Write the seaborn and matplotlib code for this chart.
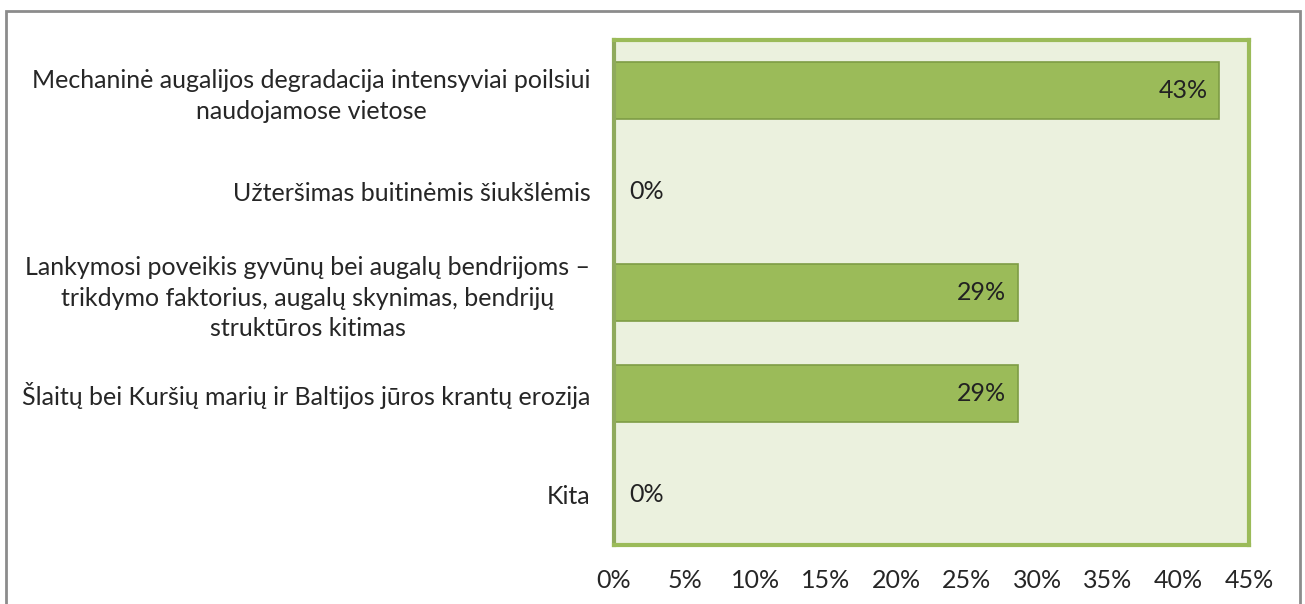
import matplotlib
matplotlib.use('Agg')
import matplotlib.pyplot as plt
import seaborn as sns
import numpy as np
import pandas as pd
from matplotlib.patches import Rectangle
from matplotlib.ticker import FuncFormatter

# Data
categories = [
    'Mechaninė augalijos degradacija intensyviai poilsiui\nnaudojamose vietose',
    'Užteršimas buitinėmis šiukšlėmis',
    'Lankymosi poveikis gyvūnų bei augalų bendrijoms –\ntrikdymo faktorius, augalų skynimas, bendrijų\nstruktūros kitimas',
    'Šlaitų bei Kuršių marių ir Baltijos jūros krantų erozija',
    'Kita',
]
shares = [42.9, 0.0, 28.6, 28.6, 0.0]
x_ticks = [0, 5, 10, 15, 20, 25, 30, 35, 40, 45]

df = pd.DataFrame({'category': categories, 'share': shares})

sns.set_style('white')
plt.rcParams['font.family'] = ['Lato', 'DejaVu Sans']
plt.rcParams['text.color'] = '#222222'

fig = plt.figure(figsize=(13.05, 6.04), dpi=100)
ax = fig.add_axes([614 / 1305, 1 - 545 / 604, (1249 - 614) / 1305, (545 - 40) / 604])

# outer chart frame
fig.patches.append(Rectangle((6 / 1305, -0.05), 1294 / 1305, 1.05 - 11 / 604,
                             transform=fig.transFigure, fill=False,
                             edgecolor='#8c8c8c', linewidth=2))

sns.barplot(data=df, x='share', y='category', orient='h', color='#9BBB59',
            width=0.57, edgecolor='#7E9C45', linewidth=1.2, saturation=1, ax=ax)

ax.set_facecolor('#EBF1DE')
ax.set_xlim(0, 45)
ax.set_ylim(4.5, -0.5)
ax.set_xticks(x_ticks)
ax.xaxis.set_major_formatter(FuncFormatter(lambda v, p: f'{v:.0f}%'))
ax.set_xlabel('')
ax.set_ylabel('')
ax.tick_params(axis='x', length=0, pad=17, labelsize=18)
ax.tick_params(axis='y', length=0, pad=17, labelsize=18)
for lbl in ax.get_yticklabels():
    lbl.set_multialignment('center')
    lbl.set_linespacing(1.4)

for side in ['top', 'right', 'bottom']:
    ax.spines[side].set_color('#9BBB59')
    ax.spines[side].set_linewidth(3)
ax.spines['left'].set_color('#8FAA5C')
ax.spines['left'].set_linewidth(3)

# value labels
for i, v in enumerate(shares):
    txt = f'{v:.0f}%'
    if v > 0:
        ax.annotate(txt, (v, i), xytext=(-8, 0), textcoords='offset points',
                    ha='right', va='center', fontsize=18)
    else:
        ax.annotate(txt, (0, i), xytext=(11, 0), textcoords='offset points',
                    ha='left', va='center', fontsize=18)

fig.savefig('out.png', dpi=100)
